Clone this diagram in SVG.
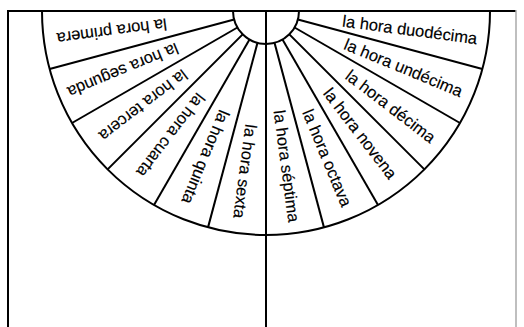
<svg xmlns="http://www.w3.org/2000/svg" width="524" height="327" viewBox="0 0 524 327">
<style>
.ln{stroke:#000;stroke-width:2;fill:none;stroke-linecap:butt}
.lb{font-family:"Liberation Sans",Arial,Helvetica,sans-serif;font-size:16.5px;fill:#000;stroke:#000;stroke-width:0.15;text-anchor:end}
</style>
<rect width="524" height="327" fill="#fff"/>
<g id="frame">
<line class="ln" x1="8" y1="11" x2="516" y2="11"/>
<line class="ln" x1="8" y1="10" x2="8" y2="327"/>
<line x1="516" y1="10" x2="516" y2="327" stroke="#aaa" stroke-width="1.5"/>
<line class="ln" x1="266" y1="11" x2="266" y2="327"/>
</g>
<g id="dial">
<path class="ln" d="M42,11 A224,224 0 0 0 490,11"/>
<path class="ln" d="M233,11 A33,33 0 0 0 299,11"/>
</g>
<g id="connectors" transform="translate(266,11)">
<line class="ln" x1="33" y1="0" x2="224" y2="0" transform="rotate(15)"/>
<line class="ln" x1="33" y1="0" x2="224" y2="0" transform="rotate(30)"/>
<line class="ln" x1="33" y1="0" x2="224" y2="0" transform="rotate(45)"/>
<line class="ln" x1="33" y1="0" x2="224" y2="0" transform="rotate(60)"/>
<line class="ln" x1="33" y1="0" x2="224" y2="0" transform="rotate(75)"/>
<line class="ln" x1="33" y1="0" x2="224" y2="0" transform="rotate(105)"/>
<line class="ln" x1="33" y1="0" x2="224" y2="0" transform="rotate(120)"/>
<line class="ln" x1="33" y1="0" x2="224" y2="0" transform="rotate(135)"/>
<line class="ln" x1="33" y1="0" x2="224" y2="0" transform="rotate(150)"/>
<line class="ln" x1="33" y1="0" x2="224" y2="0" transform="rotate(165)"/>
</g>
<g transform="translate(266,11)">
<g id="duodecima" transform="rotate(7.5)"><text class="lb" x="213" y="5.5">la hora duodécima</text></g>
<g id="undecima" transform="rotate(22.5)"><text class="lb" x="212" y="5.5">la hora undécima</text></g>
<g id="decima" transform="rotate(37.5)"><text class="lb" x="211" y="5.5">la hora décima</text></g>
<g id="novena" transform="rotate(52.5)"><text class="lb" x="209" y="5.5">la hora novena</text></g>
<g id="octava" transform="rotate(67.5)"><text class="lb" x="211" y="5.5">la hora octava</text></g>
<g id="septima" transform="rotate(82.5)"><text class="lb" x="213" y="5.5">la hora séptima</text></g>
<g id="sexta" transform="rotate(97.5)"><text class="lb" x="209" y="5.5">la hora sexta</text></g>
<g id="quinta" transform="rotate(112.5)"><text class="lb" x="208" y="5.5">la hora quinta</text></g>
<g id="cuarta" transform="rotate(127.5)"><text class="lb" x="207" y="5.5">la hora cuarta</text></g>
<g id="tercera" transform="rotate(142.5)"><text class="lb" x="208" y="5.5">la hora tercera</text></g>
<g id="segunda" transform="rotate(157.5)"><text class="lb" x="214" y="5.5">la hora segunda</text></g>
<g id="primera" transform="rotate(172.5)"><text class="lb" x="211" y="5.5">la hora primera</text></g>
</g>
</svg>
